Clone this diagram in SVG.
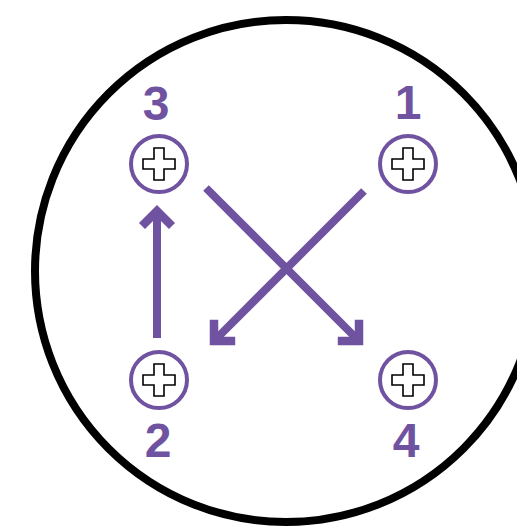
<svg xmlns="http://www.w3.org/2000/svg" width="517" height="528" viewBox="0 0 517 528">
<style>
.ring{fill:none;stroke:#000;stroke-width:8}
.screw{fill:#fff;stroke:#6F52A0;stroke-width:4}
.cross{fill:#fff;stroke:#000;stroke-width:1.6;stroke-linejoin:miter}
.lbl{font-family:"Liberation Sans",Arial,sans-serif;font-weight:bold;font-size:48px;fill:#6F52A0;text-anchor:middle}
.conn{fill:none;stroke:#6F52A0;stroke-width:8;stroke-linecap:butt}
</style>
<defs>
<marker id="ah" markerUnits="userSpaceOnUse" viewBox="-30 -30 40 60" refX="0" refY="0" markerWidth="40" markerHeight="60" orient="auto" overflow="visible">
<path d="M-15,-15 L0,0 L-15,15" fill="none" stroke="#6F52A0" stroke-width="8.5" stroke-linejoin="miter" stroke-miterlimit="10"/>
</marker>
<path id="plus" d="M-5,-16 H5 V-5 H16 V5 H5 V16 H-5 V5 H-16 V-5 H-5 Z"/>
</defs>
<circle class="ring" cx="286" cy="271" r="251"/>
<g id="connectors">
<path class="conn" d="M157,338 L157,211" marker-end="url(#ah)"/>
<path class="conn" d="M206,188 L359,341" marker-end="url(#ah)"/>
<path class="conn" d="M364,191 L214,341" marker-end="url(#ah)"/>
</g>
<g id="node1">
<circle class="screw" cx="408" cy="164" r="28"/>
<use href="#plus" class="cross" x="408" y="164"/>
<text class="lbl" x="408" y="119">1</text>
</g>
<g id="node2">
<circle class="screw" cx="159" cy="380" r="28"/>
<use href="#plus" class="cross" x="159" y="380"/>
<text class="lbl" x="158" y="457">2</text>
</g>
<g id="node3">
<circle class="screw" cx="159" cy="164" r="28"/>
<use href="#plus" class="cross" x="159" y="164"/>
<text class="lbl" x="156" y="120">3</text>
</g>
<g id="node4">
<circle class="screw" cx="408" cy="380" r="28"/>
<use href="#plus" class="cross" x="408" y="380"/>
<text class="lbl" x="406" y="457">4</text>
</g>
</svg>
